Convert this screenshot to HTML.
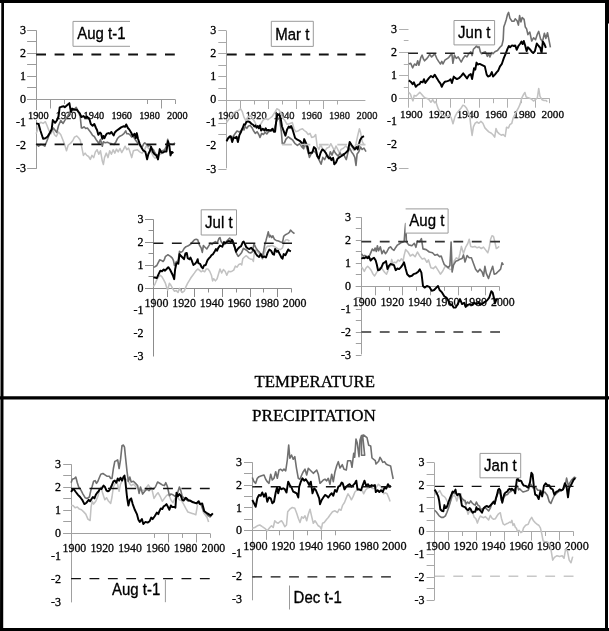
<!DOCTYPE html>
<html><head><meta charset="utf-8"><style>
html,body{margin:0;padding:0;background:#fff;overflow:hidden;}
svg{display:block;will-change:transform;}
text{stroke:currentColor;stroke-width:0.3px;}
</style></head><body>
<svg width="609" height="631" viewBox="0 0 609 631" font-family='"Liberation Serif", serif' stroke-linejoin="round">
<rect width="609" height="631" fill="#fff"/>
<g><path d="M36.5 30.4V168.8" stroke="#9a9a9a" stroke-width="1"/>
<path d="M27.1 30.5H36.5M27.1 41.5H36.5M27.1 53.5H36.5M27.1 64.5H36.5M27.1 76.5H36.5M27.1 87.5H36.5M27.1 99.5H36.5M27.1 168.5H36.5" stroke="#9a9a9a" stroke-width="1"/>
<path d="M27.1 99.5H175.3M36.5 99.5V108.5M50.5 99.5V108.5M64.5 99.5V104M147.5 99.5V104M161.5 99.5V108.5M175.5 99.5V104" stroke="#9a9a9a" stroke-width="1"/>
<text x="26.1" y="172" text-anchor="end" font-size="12">-3</text>
<text x="26.1" y="148.97" text-anchor="end" font-size="12">-2</text>
<text x="26.1" y="125.93" text-anchor="end" font-size="12">-1</text>
<text x="26.1" y="102.9" text-anchor="end" font-size="12">0</text>
<text x="26.1" y="79.87" text-anchor="end" font-size="12">1</text>
<text x="26.1" y="56.83" text-anchor="end" font-size="12">2</text>
<text x="26.1" y="33.8" text-anchor="end" font-size="12">3</text>
<rect x="27.5" y="110.04" width="21.6" height="9.79" fill="#fff"/>
<text x="38.3" y="118.9" text-anchor="middle" font-size="10.3" fill="#111">1900</text>
<rect x="55.3" y="110.04" width="21.6" height="9.79" fill="#fff"/>
<text x="66.1" y="118.9" text-anchor="middle" font-size="10.3" fill="#111">1920</text>
<rect x="83.1" y="110.04" width="21.6" height="9.79" fill="#fff"/>
<text x="93.9" y="118.9" text-anchor="middle" font-size="10.3" fill="#111">1940</text>
<rect x="110.9" y="110.04" width="21.6" height="9.79" fill="#fff"/>
<text x="121.7" y="118.9" text-anchor="middle" font-size="10.3" fill="#111">1960</text>
<rect x="138.7" y="110.04" width="21.6" height="9.79" fill="#fff"/>
<text x="149.5" y="118.9" text-anchor="middle" font-size="10.3" fill="#111">1980</text>
<rect x="166.5" y="110.04" width="21.6" height="9.79" fill="#fff"/>
<text x="177.3" y="118.9" text-anchor="middle" font-size="10.3" fill="#111">2000</text>
<path d="M36.1 133.7L37.4 130.2L38.6 124.5L40.8 122.3L43.1 123.4L45.4 121.7L47.1 125.7L48.8 130.2L51.1 133.7L52.8 129.7L54.5 134.8L56.3 136.5L58.5 132L60.8 134.8L63.1 140.5L64.8 145.1L66.5 150.8L68.2 145.1L70.5 143.4L72.8 140.5L74.5 137.1L76.8 136L78.5 137.7L80.2 140L81.7 146.8L83.4 155.4L85.1 153.1L86.8 155.4L88.6 156.5L90.3 159.4L92 155.4L93.7 157.6L95.4 151.9L97.1 149.7L98.8 154.2L100.5 150.8L102.3 161.1L103.4 164.5L104.5 157.6L106.3 153.1L108 157.6L109.7 150.8L111.4 154.2L113.1 149.7L114.8 153.1L116.5 149.1L118.2 151.9L120 148.5L121.7 152.5L123.4 149.7L125.1 146.2L126.8 149.7L128.5 148L129.4 150.2L131.7 157.6L133.4 150.8L135.1 150.2L137.4 149.7L139.7 151.9L142 153.1L144.3 150.8L146 146.2L147.7 147.4L150 149.7L151.7 153.1L153.4 156.5L155.1 158.2L156.8 156.5L158.5 155.4L160.2 154.2L162.5 153.1L164.8 149.7L166.5 146.8" fill="none" stroke="#c2c2c2" stroke-width="1.55" stroke-linejoin="round"/>
<path d="M36.1 143.9L38.6 146.2L40.8 144.5L43.1 145.1L44.8 146.2L46.6 141.7L48.8 136L51.1 131.4L53.4 128L55.1 130.2L56.8 132.5L58.5 125.7L60.8 120.5L63.1 123.4L65.4 119.4L68.2 115.4L70.5 110.8L73.4 110.3L76.2 107.4L78 110.8L80.2 116.5L81.4 127.9L82.3 128L84 126.8L85.7 128.5L87.4 128L89.1 130.2L90.8 132.5L92.6 135.4L94.3 136.5L96 139.4L97.7 141.7L98.8 143.9L100.5 139.4L102.3 146.2L103.4 141.7L105.1 142.8L107.4 142.2L109.7 143.4L112 143.9L114.2 144.5L116 141.7L117.7 138.2L119.4 136.5L121.7 135.4L123.9 133.7L125.7 130.8L126.8 133.7L128.3 133.7L130 134.8L131.7 137.1L133.4 136.5L135.1 139.4L136.8 141.7L138.6 143.9L140.3 146.2L142 147.4L143.7 143.9L144.8 142.8L146.5 144.5L148.3 146.2L150 145.1L151.7 148.5L153.4 149.7L155.1 153.1L156.8 155.4L158.5 154.2L160.2 151.9L162.5 150.8L164.8 149.7L166.5 146.2L167.7 139.4L168.8 145.1L170.5 143.9L172.8 144.5L175.1 142.8" fill="none" stroke="#707070" stroke-width="1.6" stroke-linejoin="round"/>
<path d="M36.1 123.4L38.6 124L40.3 130.2L43.1 138.8L45.4 138.2L47.7 136.5L50 132.5L51.7 129.1L52.8 120L55.1 122.8L56.8 120.5L58.5 116.5L59.7 107.4L61.4 106.8L63.7 106.3L64.8 107.2L66.5 105.7L68.2 104.2L69.4 103.1L70.3 108.6L71.1 112L72.2 108.6L74.5 109.7L76.8 109.7L78.5 112L79.7 113.1L81.4 117.1L83.4 116L85.1 117.7L86.8 116.5L88.6 118.3L89.7 120L90.8 124L92.6 125.7L94.3 124L96 128L97.1 130.2L98.3 134.8L100 132.5L101.1 133.7L102.3 138.8L103.4 136L104.5 138.2L105.7 135.4L106.8 133.7L108.5 133.1L109.7 133.7L111.4 132L112.5 133.7L113.7 135.4L114.8 132.5L116.5 130.8L118.8 129.1L121.1 127.4L123.4 126.3L125.1 126.8L126.2 124.5L127.9 128L129.4 129.7L131.1 132.5L132.8 136L134.6 133.7L135.7 138.2L136.8 133.1L138 138.8L139.7 143.9L141.4 147.4L143.1 150.2L145.4 151.9L147.1 159.4L148.3 154.2L150 150.8L151.1 146.8L152.8 151.9L154.5 154.2L156.3 155.4L158 159.4L159.7 149.1L161.4 152.5L163.1 152.5L164.8 151.4L166.5 151.4L168 141.1L169.4 146.2L170.5 155.4L171.7 151.9L173.4 153.1" fill="none" stroke="#000" stroke-width="1.95" stroke-linejoin="round"/>
<path d="M36.2 54.4H176" stroke="#111" stroke-width="2.0" stroke-dasharray="9.8 8.6"/>
<path d="M36.2 144.4H176" stroke="#111" stroke-width="1.8" stroke-dasharray="9.8 8.6"/>
<rect x="73" y="21.4" width="57" height="24.9" fill="#fff"/>
<path d="M73 21.4V46.3M73 21.4H130M73 46.3H130" stroke="#9a9a9a" stroke-width="1" fill="none"/>
<text transform="translate(77.2 38.8) scale(1 1.1)" font-family='"Liberation Sans", sans-serif' font-size="15">Aug t-1</text></g>
<g><path d="M226.5 30.9V168.3" stroke="#a8a8a8" stroke-width="1"/>
<path d="M218.3 30.5H226.5M218.3 42.5H226.5M218.3 53.5H226.5M218.3 65.5H226.5M218.3 76.5H226.5M218.3 88.5H226.5M218.3 100.5H226.5M218.3 123.5H226.5M218.3 134.5H226.5M218.3 169.5H226.5" stroke="#a8a8a8" stroke-width="1"/>
<path d="M218.3 100.5H365.4M226.5 100.5V109M240.5 100.5V109M254.5 100.5V104.5M268.5 100.5V109M282.5 100.5V104.5M296.5 100.5V109M309.5 100.5V104.5M323.5 100.5V109M337.5 100.5V104.5" stroke="#a8a8a8" stroke-width="1"/>
<text x="216.2" y="172.5" text-anchor="end" font-size="12">-3</text>
<text x="216.2" y="149.47" text-anchor="end" font-size="12">-2</text>
<text x="216.2" y="126.43" text-anchor="end" font-size="12">-1</text>
<text x="216.2" y="103.4" text-anchor="end" font-size="12">0</text>
<text x="216.2" y="80.37" text-anchor="end" font-size="12">1</text>
<text x="216.2" y="57.33" text-anchor="end" font-size="12">2</text>
<text x="216.2" y="34.3" text-anchor="end" font-size="12">3</text>
<text x="228.5" y="119.1" text-anchor="middle" font-size="10.5" fill="#333">1900</text>
<text x="256.22" y="119.1" text-anchor="middle" font-size="10.5" fill="#333">1920</text>
<text x="283.94" y="119.1" text-anchor="middle" font-size="10.5" fill="#333">1940</text>
<text x="311.66" y="119.1" text-anchor="middle" font-size="10.5" fill="#333">1960</text>
<text x="339.38" y="119.1" text-anchor="middle" font-size="10.5" fill="#333">1980</text>
<text x="367.1" y="119.1" text-anchor="middle" font-size="10.5" fill="#333">2000</text>
<path d="M226.5 122.5L229 119L231.5 116L233.5 113.5L235.4 111.7L238.3 110.6L240.6 108.8L242.3 111.7L244 117.4L245.7 120.3L248 117L250.5 115.5L252.5 118L254.8 122L256.5 125.4L258.2 126.5L260 125.4L261.7 122.5L263.4 119.7L265.7 118.5L268 119.7L270.2 118L272.3 116.3L274.6 112.8L276.8 108.8L279.1 110L280.8 112.8L282.6 118L284.8 120.3L287.1 124.3L289.4 123.7L291.1 123.1L292.3 122.5L294 128.8L295.7 131.7L298 131.1L300.3 129.4L302.5 128.8L304.2 130.5L306.5 132.2L308.2 134.5L310 133.4L311.7 137.4L314 136.8L315.7 134.5L317.1 146L318.9 149.4L320.6 144.8L322.3 148.2L324.6 151.7L326.8 148.2L329.1 147.1L330.8 143.7L332.6 147.1L334.3 150.5L336 146L337.7 149.4L339.4 152.8L341.1 149.4L343.4 148.2L345.7 146L348 148.2L349.7 144.8L352 147.1L353.7 150.5L356 143.7L357.7 135.7L359.4 128.8L360.5 132.2L362.2 141.4L364 144.8" fill="none" stroke="#c2c2c2" stroke-width="1.55" stroke-linejoin="round"/>
<path d="M226.5 140L229.7 136L232.2 138L234.8 134L237 131L239.4 132L241.1 130.5L242.8 128L244 130L245.1 126.5L246.8 128.3L248.5 126L250.3 125.4L252 127.7L253.7 131.1L255.4 133.4L257.1 131.7L258.8 134.5L260 137.4L261.7 133.4L263.4 134.5L265.1 132.2L266.8 134L268.5 131.7L270.8 131.1L274 130L276.3 122L278 118L279.7 119.7L281.4 132.2L282.3 143.7L284.3 143.1L286 139.1L288.3 136.8L290.5 138.5L292.8 140.2L295.1 143.7L297.4 145.4L299.7 143.7L302 147.1L303.7 148.8L304.8 143.1L306.5 147.1L308.2 152.2L309.4 157.4L311.1 154L313.4 150.5L315.7 152.8L317.1 156.2L318.9 159.6L321.1 164.2L322.8 157.4L324.6 159.6L326.8 155.1L328.6 158.5L330.3 151.7L332 155.1L333.7 150.5L336 153.9L338.3 156.2L340 152.8L341.7 155.6L343.4 153.9L345.1 157.4L346.3 159.6L348 152.2L349.7 148.2L351.4 151.7L353.1 153.9L354.8 157.4L356 165.4L357.1 153.9L358.8 151.7L360.5 147.1L362.2 149.4L364 148.2L366 151.7" fill="none" stroke="#707070" stroke-width="1.6" stroke-linejoin="round"/>
<path d="M226.5 141.4L228 138.5L229.7 136.8L230.8 136.2L232.2 142L233.7 137.4L235.4 138L236.6 136.8L237.9 142L239.4 135.1L241.1 131.7L242.8 127.7L244 124.3L245.1 124.8L246.3 122L248 121.4L249.7 122L251.4 123.7L253.1 124.8L254.3 126.5L255.4 125.4L256.5 127.7L257.7 126L258.8 128.3L260 125.4L261.1 130.5L262.8 128.8L264.5 130.5L265.7 128.3L266.8 130.5L268.5 130L270.8 130.5L272.5 128.8L274 131.7L275.1 131.7L276.3 120.3L277.4 114L278.6 114.6L279.7 115.7L280.8 119.1L282 126.5L283.7 131.1L285.4 135.7L287.1 129.4L288.8 126.5L290 127.7L291.1 126L292.3 128.8L293.4 132.2L295.1 138L297.4 139.7L299.7 140.8L301.4 142.5L303.1 145.4L304.2 139.1L306 143.1L307.7 147.1L308.8 153.4L310.5 152.8L312.2 152.8L314 147.1L315.7 148.8L317.4 156.2L318.9 158.5L320.6 152.8L322.3 149.4L324 150.5L325.7 152.8L327.4 156.2L329.1 158.5L330.3 157.4L331.4 160.2L333.1 157.9L334.3 164.2L336 162.5L337.7 158.5L339.4 157.4L341.1 156.2L342.8 155.1L344.5 153.9L346.3 152.2L348 150.5L349.7 142L351.4 144.8L353.1 147.1L354.8 149.4L356.5 147.1L357.7 149.4L358.8 144.8L360 140.2L361.7 137.4L364 136.2" fill="none" stroke="#000" stroke-width="1.95" stroke-linejoin="round"/>
<path d="M226.9 54.4H366" stroke="#111" stroke-width="2.0" stroke-dasharray="9.8 8.6"/>
<path d="M282.1 144.6H366" stroke="#c4c4c4" stroke-width="1.6" stroke-dasharray="9.8 8.6"/>
<rect x="271.3" y="21.3" width="42" height="25.1" fill="#fff"/>
<path d="M271.3 21.3V46.4M271.3 21.3H313.3M313.3 21.3V46.4M271.3 46.4H313.3" stroke="#9a9a9a" stroke-width="1" fill="none"/>
<text transform="translate(292.3 39.9) scale(1 1.1)" text-anchor="middle" font-family='"Liberation Sans", sans-serif' font-size="15">Mar t</text></g>
<g><path d="M408.5 52.5V98.7" stroke="#b0b0b0" stroke-width="1"/>
<path d="M399.1 29.5H408.5M403.8 40.5H408.5M399.1 52.5H408.5M403.8 64.5H408.5M399.1 75.5H408.5M403.8 87.5H408.5M399.1 98.5H408.5M399.1 168.5H408.5" stroke="#b0b0b0" stroke-width="1"/>
<path d="M399.1 98.5H549.8M408.5 98.5V107.7M422.5 98.5V107.7M436.5 98.5V103.2M450.5 98.5V107.7M464.5 98.5V103.2M479.5 98.5V107.7M493.5 98.5V103.2M507.5 98.5V107.7M521.5 98.5V103.2M535.5 98.5V107.7M549.5 98.5V103.2" stroke="#b0b0b0" stroke-width="1"/>
<text x="396.9" y="171.4" text-anchor="end" font-size="12">-3</text>
<text x="396.9" y="148.3" text-anchor="end" font-size="12">-2</text>
<text x="396.9" y="125.2" text-anchor="end" font-size="12">-1</text>
<text x="396.9" y="102.1" text-anchor="end" font-size="12">0</text>
<text x="396.9" y="79" text-anchor="end" font-size="12">1</text>
<text x="396.9" y="55.9" text-anchor="end" font-size="12">2</text>
<text x="396.9" y="32.8" text-anchor="end" font-size="12">3</text>
<text x="411.3" y="118.3" text-anchor="middle" font-size="11.2" fill="#111">1900</text>
<text x="439.6" y="118.3" text-anchor="middle" font-size="11.2" fill="#111">1920</text>
<text x="467.9" y="118.3" text-anchor="middle" font-size="11.2" fill="#111">1940</text>
<text x="496.2" y="118.3" text-anchor="middle" font-size="11.2" fill="#111">1960</text>
<text x="524.5" y="118.3" text-anchor="middle" font-size="11.2" fill="#111">1980</text>
<text x="552.8" y="118.3" text-anchor="middle" font-size="11.2" fill="#111">2000</text>
<path d="M408.7 92.3L410.5 94.2L411.8 98.5L413 100.9L414.2 95.4L416.1 96L417.9 94.2L419.8 92.3L421.6 94.2L423.5 96.6L425.3 97.9L427.2 98.5L429 99.7L430.9 102.2L432.7 99.7L434.6 102.8L435.8 101.6L437 105.2L438.3 108.9L440.1 112L442 114.5L444.4 116.3L446.9 116.9L449.3 115.1L451.2 117.6L453 123.7L454.9 116.9L456.7 113.3L459.2 110.2L461 108.3L462.9 105.2L464.7 105.9L466.6 108.3L468.4 112L469.7 115.7L470.9 126.8L472.1 135.4L473.4 126.8L475.2 123.1L477 122L478.9 123.3L480.9 121.4L482.9 123.3L484.9 127.9L486.8 129.9L488.8 131.9L491.4 133.2L493.4 135.2L494.7 137.1L496 128.6L497.3 131.9L499.3 133.9L501.3 135.2L503.2 134.5L505.2 136.5L506.5 127.3L508.5 127.9L509.8 124.7L511.8 123.3L513.1 118.1L514.4 115.5L516.4 111.5L518.3 108.2L520.3 103.6L521.6 98.4L523.6 94.4L524.9 92.5L526.2 97.1L528.2 97.7L530.2 98.4L532.1 99.7L533.5 101L535.4 99.7L537.4 97.7L538.7 88.5L540 96.4L542 99.7L544 100.4L545.9 100.4L547.3 101.7" fill="none" stroke="#c2c2c2" stroke-width="1.55" stroke-linejoin="round"/>
<path d="M408.8 64L410.7 63.3L412.6 67.8L414.5 64L416.4 65.2L417.7 60.8L418.9 65.2L420.8 57.6L422.1 55.1L423.4 58.9L424.6 60.8L426.5 58.9L428.4 56.4L429.7 54.5L431.6 57L433.5 55.1L434.8 53.8L436.7 58.3L438.6 61.4L440.5 64L441.8 61.4L443 64L444.9 60.2L446.8 58.9L448.7 57.6L450.6 55.1L451.9 53.8L452.9 63.3L454.4 55.1L456.3 58.3L458.2 56.9L460.1 60.1L461.3 62L463.2 58.2L465.1 55.6L467 56.9L468.9 53.7L470.8 51.8L472.1 55.6L473.4 49.3L475.3 47.4L476.5 46.1L477.8 47.4L479.1 46.8L480.3 51.8L481.6 53.7L483.5 52.5L485.4 51.8L487.3 56.3L488.6 53.7L489.9 56.9L491.8 52.5L493 53.7L494.9 51.8L497.5 50.6L500 47.3L501.9 45.4L503.2 39.7L503.8 27L505.1 23.2L506.3 19.4L507.6 14.3L508.6 12.4L509.9 18.1L512 21.3L513.9 21.3L515.2 18.8L517.1 20.7L518.4 25.1L519.6 15.6L520.9 21.9L522.2 17.5L524.1 19.4L525.3 27L526.6 28.9L527.9 34.6L529.8 32.1L531.7 41L533.6 37.8L535.5 39.7L537.4 34L538.7 31.4L540.6 39.1L542.5 41.6L544.4 33.3L545.9 38.4L547.5 32.7L549.4 42.2L550.4 47.3" fill="none" stroke="#707070" stroke-width="1.6" stroke-linejoin="round"/>
<path d="M408.8 80.4L410.7 81.7L412.6 84.2L413.9 82.3L415.8 86.8L417.7 84.9L419.6 84.2L420.8 81.7L422.7 82.3L424 79.2L425.3 83L427.2 80.4L429.1 77.9L431 76L432.9 77.3L434.8 74.7L436.7 77.9L438.6 81.1L440.5 83.6L441.8 86.8L443 84.2L444.9 81.7L447.5 81.1L449.4 80.4L450.6 79.2L451.9 83L453.8 76.6L455.1 77.9L456.9 79.1L459.4 77.8L461.3 75.9L463.2 73.4L465.1 75.9L467 78.4L468.9 75.3L470.8 74L472.1 79.1L474 68.3L475.3 69.6L476.5 62.6L477.8 64.5L479.7 63.9L482.2 65.1L484.8 66.4L486.7 74.6L488 76.5L489.9 75.9L491.8 72.1L493 76.5L494.9 74.6L496.8 72.1L498.1 70.8L500 66.3L501.9 63.8L503.8 58.1L505.7 53.6L507.6 48.6L508.9 46L510.1 47.3L512 45.4L513.9 46L515.2 45.4L516.7 49.8L518.4 46L520.3 43.5L521.5 41.6L522.6 44.1L523.8 41L525.3 46L526.6 51.1L527.9 47.3L529.8 49.2L531.7 51.7L533.2 53L534.9 51.1L536.8 43.5L538.7 46L540.3 47.9L541.6 53L542.8 41.6L544.4 44.1L545.9 47.9" fill="none" stroke="#000" stroke-width="1.95" stroke-linejoin="round"/>
<path d="M408.2 53.3H550" stroke="#222" stroke-width="1.6" stroke-dasharray="9.8 8.6"/>
<rect x="454" y="20.5" width="40.6" height="24.4" fill="#fff"/>
<path d="M454 20.5V44.9M454 20.5H494.6M494.6 20.5V44.9M454 44.9H494.6" stroke="#9a9a9a" stroke-width="1" fill="none"/>
<text transform="translate(474.3 38.1) scale(1 1.1)" text-anchor="middle" font-family='"Liberation Sans", sans-serif' font-size="15">Jun t</text></g>
<g><path d="M153.5 219.5V356.5" stroke="#8c8c8c" stroke-width="1"/>
<path d="M145 219.5H153.5M148.5 230.5H153.5M145 242.5H153.5M148.5 253.5H153.5M145 265.5H153.5M148.5 276.5H153.5M145 288.5H153.5" stroke="#8c8c8c" stroke-width="1"/>
<path d="M145 288.5H291.6M153.5 288.5V297M167.5 288.5V297M181.5 288.5V292.5M194.5 288.5V297M208.5 288.5V292.5M222.5 288.5V297M236.5 288.5V292.5M250.5 288.5V297M263.5 288.5V292.5M277.5 288.5V297M291.5 288.5V292.5" stroke="#8c8c8c" stroke-width="1"/>
<text x="143.5" y="360.1" text-anchor="end" font-size="12">-3</text>
<text x="143.5" y="337.27" text-anchor="end" font-size="12">-2</text>
<text x="143.5" y="314.43" text-anchor="end" font-size="12">-1</text>
<text x="143.5" y="291.6" text-anchor="end" font-size="12">0</text>
<text x="143.5" y="268.77" text-anchor="end" font-size="12">1</text>
<text x="143.5" y="245.93" text-anchor="end" font-size="12">2</text>
<text x="143.5" y="223.1" text-anchor="end" font-size="12">3</text>
<text x="156.5" y="307" text-anchor="middle" font-size="11.9" fill="#111">1900</text>
<text x="184.12" y="307" text-anchor="middle" font-size="11.9" fill="#111">1920</text>
<text x="211.74" y="307" text-anchor="middle" font-size="11.9" fill="#111">1940</text>
<text x="239.36" y="307" text-anchor="middle" font-size="11.9" fill="#111">1960</text>
<text x="266.98" y="307" text-anchor="middle" font-size="11.9" fill="#111">1980</text>
<text x="294.6" y="307" text-anchor="middle" font-size="11.9" fill="#111">2000</text>
<path d="M153.4 286.6L155.1 283.8L156.8 279.8L158.6 276.9L160.3 275.2L162 276.9L163.7 279.8L165.4 283.2L166.6 287.2L167.7 290.1L169.4 283.2L171.1 285.5L172.8 288.9L174.5 291.2L176.3 290.6L178 292.4L179.5 288.4L180.8 290.6L182.5 292.4L184.2 291.2L186 286.6L187.7 283.2L189.4 280.4L191.1 277.5L192.8 275.2L194.5 272.9L196 270.7L197.7 269L199.4 270.1L201.1 271.8L202.8 270.7L204.6 271.8L206.3 269L208 269L209.7 271.2L211.4 275.2L212.6 280.9L213.7 278.7L215.4 280.9L217.1 278.7L218.8 273L220 269L221.7 273L223.4 269.5L225.1 271.2L226.8 275.2L228.5 271.2L230.2 271.8L232 271.2L233.7 270.1L235.4 266.1L237.1 267.2L238.8 264.4L240.5 263.8L241.7 265L242.8 258.7L244.5 257L246 255.8L247.1 256.4L248.8 258.1L250.6 259.2L252.3 259.2L253.4 261.5L254.6 250L255.7 250.1L257.4 251.5L259.1 253.5L260.8 255.8L262.5 259.2L264.5 253L266 247.8L267.7 246.1L270 246.1L272.3 245.5L275 247L278 249L280.5 249.5L282.5 247.8L284.2 242.1L286 239.8L287.7 239.8L289.4 241" fill="none" stroke="#c2c2c2" stroke-width="1.55" stroke-linejoin="round"/>
<path d="M153.4 267.2L155.1 266.7L156.8 265.5L158 263.2L159.7 259.8L161.4 260.4L163.1 261.5L164.3 259.8L165.4 256.4L166.6 255.8L167.7 254.7L168.8 255.3L170.5 256.4L172.3 258.1L173.4 260.4L174.5 265.5L176.3 261.5L178 261.5L179.5 251.3L180.8 252.4L182.5 251.3L184.2 248.4L186 246.7L187.7 246.1L189.4 245L191.1 243.8L192.8 241.6L194.5 239.8L196.2 239.3L197.7 239.8L199.4 245L201.1 247.8L202.3 252.4L203.4 245.5L205.1 247.3L206.8 249L208.6 246.1L210.3 243.3L212 244.4L213.7 242.7L215.4 241.6L217.1 243.3L218.8 238.7L220 237.6L221.1 241.6L222.8 243.8L224.5 244.4L226.3 241.6L228 239.8L229.7 238.1L231.4 239.8L233.1 241L234.8 247.8L236.5 253.5L238.2 256.4L239.9 254.7L241.7 252.4L243.4 248.4L245.4 249.5L247.1 250.7L248.8 252.4L250.6 253L252.3 251.8L254 243.8L255.7 247.3L257.4 250.1L259.1 251.8L260.8 254.1L262.5 256.4L263.7 250.7L264.8 244.4L266 240.4L267.1 236.4L268.3 231.8L269.4 237L270.5 235.3L271.7 237.6L272.8 235.8L274.5 239.3L276.2 240.4L278.5 241L280.8 242.1L282.5 242.7L283.7 236.4L285.4 234.7L287.7 233.6L289.4 232.4L290.5 230.1L292.2 231.8L294.5 233.6" fill="none" stroke="#707070" stroke-width="1.6" stroke-linejoin="round"/>
<path d="M153.4 277.5L155.1 277.5L156.8 278.1L158.6 274.1L160.3 270.7L162 271.2L163.7 269.5L164.8 270.7L166.6 269L168.3 267.2L170 269.5L171.7 273L172.8 275.2L174.2 279.2L175.1 269.5L176.3 263.8L177.6 262.7L178.3 263.8L179.5 254.1L180.8 255.8L182.5 257.5L184 259.2L185.4 253.5L186.8 253L187.7 258.1L189.4 259.2L190.5 257.5L191.7 260.4L193.4 265L195.1 263.8L196.8 261.5L197.7 259.2L198.3 263.2L200 263.8L201.7 267.2L202.8 268.4L204 265.5L205.7 265L207.4 260.4L209.1 258.1L210.3 257L211.4 255.3L213.1 254.1L214.8 251.3L216 249L217.1 250.7L218.3 247.8L220 245.5L221.1 246.1L222.3 246.7L224 242.1L225.7 243.3L227.4 241.6L229.1 241L230.8 242.1L232 239.8L233.1 242.7L234.8 247.3L236 251.8L237.7 249L239.4 247.3L241.1 246.1L242.8 242.1L243.7 241.6L244.9 243.8L246 246.7L247.7 248.4L249.4 249L251.1 247.8L252.8 249.5L254.6 251.3L255.7 253.5L257.4 255.8L259.1 257L260.8 254.1L262.5 257.5L264.3 256.4L266 257.5L267.7 252.4L269.4 249.5L271.1 250.7L272.8 254.1L274 254.7L275.1 249L276.8 251.8L278 250.7L279.7 254.1L281.4 257.5L282.5 258.7L283.7 254.1L285.4 255.3L287.1 251.8L288.2 249.5L289.4 250.7L290.9 251.3" fill="none" stroke="#000" stroke-width="1.95" stroke-linejoin="round"/>
<path d="M153.5 243.3H292" stroke="#1a1a1a" stroke-width="1.5" stroke-dasharray="9.8 8.6"/>
<rect x="201.2" y="209.8" width="35.3" height="25.2" fill="#fff"/>
<path d="M201.2 209.8V235M201.2 209.8H236.5M236.5 209.8V235M201.2 235H236.5" stroke="#9a9a9a" stroke-width="1" fill="none"/>
<text transform="translate(218.85 228) scale(1 1.1)" text-anchor="middle" font-family='"Liberation Sans", sans-serif' font-size="15">Jul t</text></g>
<g><path d="M361.5 217.3V354.4" stroke="#a0a0a0" stroke-width="1"/>
<path d="M355.8 217.5H361.5M355.8 228.5H361.5M355.8 240.5H361.5M355.8 251.5H361.5M355.8 263.5H361.5M355.8 274.5H361.5M355.8 286.5H361.5M355.8 297.5H361.5M355.8 309.5H361.5M355.8 320.5H361.5M355.8 332.5H361.5M355.8 343.5H361.5M355.8 355.5H361.5" stroke="#a0a0a0" stroke-width="1"/>
<path d="M355.8 286.5H499.6M361.5 286.5V295.3M375.5 286.5V295.3M389.5 286.5V290.8M402.5 286.5V295.3M416.5 286.5V290.8M430.5 286.5V295.3M444.5 286.5V290.8M458.5 286.5V295.3M471.5 286.5V290.8M485.5 286.5V295.3M499.5 286.5V290.8" stroke="#a0a0a0" stroke-width="1"/>
<text x="351" y="358.9" text-anchor="end" font-size="12">-3</text>
<text x="351" y="335.9" text-anchor="end" font-size="12">-2</text>
<text x="351" y="312.9" text-anchor="end" font-size="12">-1</text>
<text x="351" y="289.9" text-anchor="end" font-size="12">0</text>
<text x="351" y="266.9" text-anchor="end" font-size="12">1</text>
<text x="351" y="243.9" text-anchor="end" font-size="12">2</text>
<text x="351" y="220.9" text-anchor="end" font-size="12">3</text>
<text x="364.6" y="305.8" text-anchor="middle" font-size="11.8" fill="#111">1900</text>
<text x="392.24" y="305.8" text-anchor="middle" font-size="11.8" fill="#111">1920</text>
<text x="419.88" y="305.8" text-anchor="middle" font-size="11.8" fill="#111">1940</text>
<text x="447.52" y="305.8" text-anchor="middle" font-size="11.8" fill="#111">1960</text>
<text x="475.16" y="305.8" text-anchor="middle" font-size="11.8" fill="#111">1980</text>
<text x="502.8" y="305.8" text-anchor="middle" font-size="11.8" fill="#111">2000</text>
<path d="M361.4 266.8L363.1 269.1L364.3 271.4L366 268L367.7 266.2L369.4 268L371.1 270.2L372.8 273.7L374.6 275.9L376.3 273.1L378 270.2L379.7 268L381.4 267.4L383.1 270.2L384.8 272.5L386.5 274.2L387.7 271.4L388.8 268L390.5 265.7L391.7 259.4L392.8 263.4L394.5 262.2L396.2 262.8L398 260L399.7 261.1L401.4 258.8L403.1 261.1L404 256L405.6 249.6L408 252L410.3 256L412.7 254.4L415.1 256.8L417.4 252L419.8 256L422.2 259.1L424.6 258.3L426.9 262.3L428.5 259.9L430.9 267.8L433.3 268.6L435.6 266.3L438 270.2L440.4 274.2L442.8 271L445.1 266.3L447.5 267.1L449.9 269.4L452.1 269.2L454.3 260.6L456.4 257.8L458.5 259.2L460 253.5L461.4 246.4L463.5 253.5L465.7 247.1L467.8 243.5L469.2 239.2L470.7 246.4L472.8 247.1L474.9 246.4L477.1 247.8L479.2 247.1L481.3 248.5L483.5 247.1L485.6 249.9L487.8 252.8L489.2 247.8L490.6 239.2L492 235.7L493.5 236.4L494.9 242.1L496.3 248.5L497.7 247.8L499.2 246.4" fill="none" stroke="#c2c2c2" stroke-width="1.55" stroke-linejoin="round"/>
<path d="M361.4 253.7L363.1 256L364.8 255.4L366.6 256.5L368.3 256.5L369.4 256L370.6 253.1L372.3 249.1L374 250.8L375.1 248L376.3 251.4L377.4 245.7L378.5 250.8L380.3 246.8L382 253.7L383.7 250.3L385.4 253.7L387.1 251.4L388.8 248L390.5 246.8L392.2 249.1L394 250.3L395.7 247.4L397.4 245.1L399.1 244L400.8 242.8L402.5 242.3L404.2 241.1L405 230L405.6 223.5L406.2 235L406.4 241.7L408.7 244.9L411.9 245.7L414.3 243.3L415.9 247.3L417.4 240.9L419.8 241.7L421.4 238.6L423 248.9L426.2 249.6L429.3 252L432.5 252.8L434.9 255.2L437.2 254.4L439.6 256.8L441.2 256L442.8 260.7L444.3 264.7L446.7 266.3L448.3 267.8L449.9 265.5L450.5 255L451.1 242.1L451.7 258L452.1 272L453.6 264.9L455.7 261.3L457.8 260.6L460 259.2L462.1 258.5L463.5 254.9L465 262L467.1 255.6L469.2 257.8L471.4 257.8L473.5 263.5L475.6 269.2L477.8 272L479.9 269.2L482.1 272L483.5 276.3L484.9 266.3L486.3 273.4L488.5 278.4L490.6 272L492.7 266.3L494.2 274.2L496.3 273.4L498.4 271.3L500.6 269.2L502 262.8L503.4 264.9" fill="none" stroke="#707070" stroke-width="1.6" stroke-linejoin="round"/>
<path d="M361.4 258.8L363.1 257.7L364.3 258.3L366 257.1L367.7 258.3L368.8 256.5L370.6 260.5L372.3 258.8L374 257.7L375.7 260.5L376.8 264.5L378 270.2L379.7 269.7L381.4 267.4L383.1 263.4L384.8 262.2L386 261.1L387.5 269.1L388.8 266.2L390.5 264L392.2 264.5L394 265.1L395.7 270.2L397.4 268.5L399.1 269.1L400.8 267.4L402.5 265.1L404 262.3L405.6 268.6L407.2 274.2L409.5 276.5L411.9 275.8L413.5 274.2L415.9 273.4L418.2 271.8L419.8 269.4L421.4 272.6L423 286L424.6 287.6L426.9 286L429.3 286.8L431.7 290.8L434.1 290L436.4 287.6L438 286L439.6 290L442 292.4L444.3 296.3L446.7 297.9L449.1 301.9L450 304.1L452.1 304.8L453.6 307.6L455.7 307.6L457.8 304.1L460 299.1L462.1 304.1L464.2 302.7L465.7 306.9L467.8 304.8L469.9 304.1L472.1 304.8L474.2 302.7L476.4 304.1L478.5 302.7L480.6 304.8L482.8 303.4L484.9 301.9L487 300.5L489.2 297.7L491.3 291.3L492.7 292.7L493.9 297.7L494.9 303.4L496.3 299.8L497.7 298.4" fill="none" stroke="#000" stroke-width="1.95" stroke-linejoin="round"/>
<path d="M361.4 241.7H500.5" stroke="#333" stroke-width="1.7" stroke-dasharray="9.8 8.6"/>
<path d="M361.4 332H500.5" stroke="#333" stroke-width="1.6" stroke-dasharray="9.8 8.6"/>
<rect x="405.6" y="208.9" width="42.5" height="24.2" fill="#fff"/>
<path d="M405.6 208.9H448.1M448.1 208.9V233.1M405.6 233.1H448.1" stroke="#9a9a9a" stroke-width="1" fill="none"/>
<text transform="translate(426.85 226.3) scale(1 1.1)" text-anchor="middle" font-family='"Liberation Sans", sans-serif' font-size="15">Aug t</text></g>
<g><path d="M71.5 464.3V602.4" stroke="#a0a0a0" stroke-width="1"/>
<path d="M63.2 464.5H71.5M63.2 475.5H71.5M63.2 487.5H71.5M63.2 498.5H71.5M63.2 510.5H71.5M63.2 521.5H71.5M63.2 533.5H71.5" stroke="#a0a0a0" stroke-width="1"/>
<path d="M63.2 533.5H210.2M71.5 533.5V542.4M154.5 533.5V537.9M168.5 533.5V542.4M182.5 533.5V537.9M196.5 533.5V542.4M210.5 533.5V537.9" stroke="#a0a0a0" stroke-width="1"/>
<text x="61.1" y="606.1" text-anchor="end" font-size="12">-3</text>
<text x="61.1" y="583.07" text-anchor="end" font-size="12">-2</text>
<text x="61.1" y="560.03" text-anchor="end" font-size="12">-1</text>
<text x="61.1" y="537" text-anchor="end" font-size="12">0</text>
<text x="61.1" y="513.97" text-anchor="end" font-size="12">1</text>
<text x="61.1" y="490.93" text-anchor="end" font-size="12">2</text>
<text x="61.1" y="467.9" text-anchor="end" font-size="12">3</text>
<text x="74.4" y="552.2" text-anchor="middle" font-size="11.8" fill="#111">1900</text>
<text x="102.2" y="552.2" text-anchor="middle" font-size="11.8" fill="#111">1920</text>
<text x="130" y="552.2" text-anchor="middle" font-size="11.8" fill="#111">1940</text>
<text x="157.8" y="552.2" text-anchor="middle" font-size="11.8" fill="#111">1960</text>
<text x="185.6" y="552.2" text-anchor="middle" font-size="11.8" fill="#111">1980</text>
<text x="213.4" y="552.2" text-anchor="middle" font-size="11.8" fill="#111">2000</text>
<path d="M71.1 505.5L73 505.5L75.1 507.7L77.3 507L79.4 509.1L81.5 509.8L83.7 511.9L85.8 514.1L87.9 519.1L90.1 520.5L91.1 506.9L92.2 501.3L93.6 504.1L95.8 501.3L97.9 496.3L99.3 490.6L101 487L102.9 494.1L104.8 499.8L106.5 497.7L108.6 501.3L110.7 503.4L112 497L113.4 487L114.8 484.2L117 481.3L119.1 491.3L120.5 484.2L122.7 479.9L124.8 478.5L127 479.9L129.1 482.7L131.2 485.6L133.4 484.2L135.5 486.3L137.6 488.4L139.8 488.4L141.9 489.9L144.1 490.6L146.2 487.7L148.3 484.9L149.7 487L151.9 489.1L154 498.4L156.2 494.8L158 492.7L160.1 496.3L162.3 501.3L164.4 498.4L166.5 495.6L168.7 494.1L170.8 499.8L173 502.7L175.1 498.4L177.2 497L179.4 499.8L181.5 500.6L183.6 504.1L185.8 508.4L187.9 512L190.1 512.7L192.2 513.4L194.3 514.1L195.8 514.8L197.9 502.7L199.3 501.3L201.5 505.5L203.6 512.7L205.7 515.5L207.2 517.7L208.6 521.9" fill="none" stroke="#c2c2c2" stroke-width="1.55" stroke-linejoin="round"/>
<path d="M71.1 482.7L72.3 479.2L74.4 478.5L75.8 477L77.3 482.7L78.7 487L80.8 489.9L83 494.1L85.1 497.7L87.2 498.4L89.4 497L90.8 490.6L92.2 486.3L93.6 481.3L95.1 480.6L96.5 483.4L97.9 481.3L99.3 477.7L100.8 474.2L102.9 473.5L105 474.9L107.2 476.3L109.3 476.3L110.7 478.5L112 478.5L113.4 468.5L114.8 461.4L116.3 460.7L117.7 459.9L119.1 468.5L120.5 459.9L122 445.7L123.4 445L124.5 447.1L125.5 457.1L127 471.3L128.4 481.3L129.8 477L131.2 482L133.4 481.3L135.5 483.4L137.6 485.6L139.1 493.4L140.5 487L142.6 494.1L144.8 491.3L146.9 489.1L149 490.6L151.2 488.4L153.3 489.1L155.4 487L157.6 482L160.1 483.5L162.3 484.9L164.4 485.6L165.8 482.7L167.3 486.3L169.4 495.6L170.8 494.1L173 494.8L175.1 496.3L177.2 494.1L179.4 487L180.8 490.6L182.2 496.3L184.4 498.4L186.5 499.8L188.6 501.3L190.8 500.6L192.9 502L195 502.7L197.2 502.7L199.3 503.4L201.5 505.5L203.6 511.2L205.7 512.7L207.9 515.5L210 516.9L212.1 514.1" fill="none" stroke="#707070" stroke-width="1.6" stroke-linejoin="round"/>
<path d="M71.1 492L72.3 489.9L73.7 489.1L75.8 492L78 494.8L80.1 497L82.2 499.8L84.4 504.1L86.5 502.7L88.7 499.8L90.1 501.3L91.5 499.1L92.9 497L94.4 498.4L95.8 494.8L97.2 492.7L98.6 491.3L100.1 488.4L101.5 489.1L103.6 485.6L105 487L106.5 490.6L107.9 491.3L109.3 490.6L111.4 486.3L113.4 481.3L114.8 480.6L116.3 482.7L117.7 478.5L119.1 480.6L120.5 477.7L122 480.6L123.4 477L124.5 475.6L125.5 482.7L127 497L128.4 505.5L129.8 499.8L131.2 498.4L132.7 504.1L134.8 509.8L136.9 514.1L138.4 519.8L139.8 521.9L141.9 519.1L143.3 524L145.5 521.9L147.6 522.6L149.7 521.2L151.2 517.6L152.6 519.1L154.7 516.2L156.9 512.6L158.3 514.1L159.4 511.2L160.8 508.4L162.3 509.1L163.7 506.3L165.1 505.5L166.5 504.1L168 507L169.4 509.8L170.8 505.5L172.2 507L174.4 507L175.4 507.7L176.5 492.7L177.9 496.3L179.4 494.1L180.8 495.6L182.2 499.8L183.6 500.6L185.8 497.7L187.9 499.8L190.1 500.6L192.2 502L194.3 502.7L196.5 503.4L198.6 501.3L200 504.1L202.2 503.4L204.3 511.2L206.4 512.7L208.6 514.1L210.7 515.5L212.9 513.4" fill="none" stroke="#000" stroke-width="1.95" stroke-linejoin="round"/>
<path d="M71.1 488.5H211" stroke="#111" stroke-width="1.4" stroke-dasharray="9.8 8.6"/>
<path d="M71.1 578.6H211" stroke="#111" stroke-width="1.4" stroke-dasharray="9.8 8.6"/>
<path d="M165.4 580V602.2" stroke="#9a9a9a" stroke-width="1" fill="none"/>
<text transform="translate(112 595.4) scale(1 1.1)" font-family='"Liberation Sans", sans-serif' font-size="15">Aug t-1</text></g>
<g><path d="M252.5 462.3V600.3" stroke="#a0a0a0" stroke-width="1"/>
<path d="M244 462.5H252.5M244 473.5H252.5M244 485.5H252.5M244 496.5H252.5M244 507.5H252.5M244 519.5H252.5M244 530.5H252.5" stroke="#a0a0a0" stroke-width="1"/>
<path d="M244 530.5H391M252.5 530.5V539.8M266.5 530.5V539.8M279.5 530.5V535.3M293.5 530.5V539.8M307.5 530.5V535.3M321.5 530.5V539.8M335.5 530.5V535.3" stroke="#a0a0a0" stroke-width="1"/>
<text x="242.1" y="602.9" text-anchor="end" font-size="12">-3</text>
<text x="242.1" y="580.07" text-anchor="end" font-size="12">-2</text>
<text x="242.1" y="557.23" text-anchor="end" font-size="12">-1</text>
<text x="242.1" y="534.4" text-anchor="end" font-size="12">0</text>
<text x="242.1" y="511.57" text-anchor="end" font-size="12">1</text>
<text x="242.1" y="488.73" text-anchor="end" font-size="12">2</text>
<text x="242.1" y="465.9" text-anchor="end" font-size="12">3</text>
<text x="255.5" y="550.3" text-anchor="middle" font-size="12.2" fill="#111">1900</text>
<text x="283.26" y="550.3" text-anchor="middle" font-size="12.2" fill="#111">1920</text>
<text x="311.02" y="550.3" text-anchor="middle" font-size="12.2" fill="#111">1940</text>
<text x="338.78" y="550.3" text-anchor="middle" font-size="12.2" fill="#111">1960</text>
<text x="366.54" y="550.3" text-anchor="middle" font-size="12.2" fill="#111">1980</text>
<text x="394.3" y="550.3" text-anchor="middle" font-size="12.2" fill="#111">2000</text>
<path d="M252.3 528.3L254.8 527.5L257.3 525.8L259.8 525L262.3 526.7L264.8 528.3L267.3 530.8L269.8 527.5L271.5 525.8L273.2 527.5L274.8 520.8L276.5 522.5L278.2 523.3L279.8 521.7L281.5 520.8L283.2 523.3L284.8 526.7L286.5 525L287.7 511.7L289.8 509.2L292.3 507.5L294.8 508.3L296.7 513.3L298.3 518.3L300 522.5L301.7 516.7L303.3 518.3L305 515.8L306.7 520.8L308.3 514.2L310 509.2L311.7 516.7L313.3 523.3L315 520.8L316.7 523.3L318.3 525.8L320 526.7L321.3 529.2L322.5 523.3L324.2 522.5L326.7 519.2L328.3 517.5L330 515L332.5 511.7L335 510.8L337.5 512.5L339.2 509.2L341 510.3L342.7 505.1L344.5 502.5L346.2 498.1L348 493.8L349.7 496.4L351.4 499.8L353.2 496.4L354.9 492L356.7 490.3L358.4 488.5L360.1 490.3L361.9 489.4L363.6 493.8L365.4 490.3L367.1 488.5L368.9 487.7L370.6 486.8L372.3 488.5L374.1 488.5L375.8 487.7L378.4 484.2L380.2 485.9L381.9 487.7L383.6 493.8L385.4 492.9L387.1 493.8L388.9 498.1L390.1 501.6" fill="none" stroke="#c2c2c2" stroke-width="1.55" stroke-linejoin="round"/>
<path d="M252.3 477.5L254 481.7L255.7 483.3L257.3 478.3L259 476.7L261.5 475.8L264 475L265.7 479.2L267.3 481.7L269 483.3L270.7 474.2L272.3 480L274 478.3L275.7 471.7L277.3 478.3L279 470L280.7 469.2L282.3 470.8L284 469.2L285.7 470.8L287.3 460L288.7 445L289.8 458.3L291.5 455L293.2 459.2L294.8 456.7L296.5 468.3L298.3 478.3L300 479.2L301.7 475L303.3 471.7L305 469.2L306.7 475L308.3 468.3L310.8 470.8L313.3 473.3L315 471.7L316.7 470L318.3 474.2L320 483.3L321.7 481.7L323.3 480L325 479.2L326.7 480.8L328.3 478.3L330 484.2L331.7 474.2L333.3 481.7L335 471.7L336.7 465.8L338.3 461.7L340 468L342.3 464.7L344 469.3L346.3 470L347.7 460.7L350.7 460.7L352 467.3L353.7 453.3L354.7 457.3L356 439L357.3 443.3L359 456.7L360 440L361.5 435.5L361.5 455.3L364.7 455.3L362.6 435.2L363.5 435L367 437.7L368.7 445.3L370.7 446L372 458L375.3 460.7L376 464L378.7 461.3L380 457.3L381 458.9L382.8 462.4L384.5 461.6L386.3 464.2L388 465L390.6 465.9L392.3 474.6L393.2 479" fill="none" stroke="#707070" stroke-width="1.6" stroke-linejoin="round"/>
<path d="M252.3 500L254 503.3L255.7 506.7L257.3 498.3L259 495L260.7 495.8L262.3 492.5L264 496.7L265.7 493.3L267.3 501.7L269 497.5L270.7 498.3L272.3 503.3L274 501.7L275.7 492.5L277 487.5L278.2 493.3L279.8 487.5L281.5 489.2L283.2 488.3L284.8 489.2L286.5 492.5L288.2 481.7L289.8 485L291.5 487.5L293.2 491.7L295 492.5L296.7 493.3L298.3 497.5L299.2 486.7L300.8 481.7L302.5 478.3L304.2 480.8L305.8 479.2L307.5 481.7L309.2 485L310.8 481.7L312.5 493.3L314.2 488.3L315.8 490L317.5 494.2L319.2 498.3L320 504.2L321.7 500L323.3 497.5L325 495L326.7 495.8L328.3 497.5L330 495L331.7 493.3L333.3 495.8L335 490L336.7 491.7L338.3 486.7L340 485.8L341.7 482.5L342.7 483.3L344.5 489.4L346.2 486.8L348 485.1L349.7 484.2L351.4 486.8L353.2 485.1L354.9 483.3L356.3 480.7L357.5 489.4L359.3 489.4L361 490.3L362.8 485.1L364.5 480.7L366.2 485.9L368 484.2L369.7 486.8L371.5 485.1L373.2 485.9L374.9 485.1L375.8 492L377.6 490.3L379.3 492L381 490.3L382.8 492L384.5 487.7L386.3 488.5L388 484.2L389.7 486.8L391.1 485.9" fill="none" stroke="#000" stroke-width="1.95" stroke-linejoin="round"/>
<path d="M252.3 486.8H391" stroke="#111" stroke-width="1.4" stroke-dasharray="9.8 8.6"/>
<path d="M252.3 576.9H391" stroke="#111" stroke-width="1.4" stroke-dasharray="9.8 8.6"/>
<path d="M289.5 585.5V609.5" stroke="#9a9a9a" stroke-width="1" fill="none"/>
<text transform="translate(293.6 602.6) scale(1 1.1)" font-family='"Liberation Sans", sans-serif' font-size="15">Dec t-1</text></g>
<g><path d="M434.5 462.8V600.1" stroke="#a8a8a8" stroke-width="1"/>
<path d="M426.6 462.5H434.5M426.6 474.5H434.5M426.6 485.5H434.5M426.6 497.5H434.5M426.6 508.5H434.5M426.6 520.5H434.5M426.6 531.5H434.5M426.6 542.5H434.5M426.6 554.5H434.5M426.6 565.5H434.5M426.6 577.5H434.5M426.6 588.5H434.5M426.6 600.5H434.5" stroke="#a8a8a8" stroke-width="1"/>
<path d="M426.6 531.5H573.6M434.5 531.5V540.5M448.5 531.5V540.5M462.5 531.5V536M476.5 531.5V540.5M490.5 531.5V536M504.5 531.5V540.5M518.5 531.5V536M531.5 531.5V540.5M545.5 531.5V536M559.5 531.5V540.5M573.5 531.5V536" stroke="#a8a8a8" stroke-width="1"/>
<text x="424.6" y="603.8" text-anchor="end" font-size="12">-3</text>
<text x="424.6" y="580.9" text-anchor="end" font-size="12">-2</text>
<text x="424.6" y="558" text-anchor="end" font-size="12">-1</text>
<text x="424.6" y="535.1" text-anchor="end" font-size="12">0</text>
<text x="424.6" y="512.2" text-anchor="end" font-size="12">1</text>
<text x="424.6" y="489.3" text-anchor="end" font-size="12">2</text>
<text x="424.6" y="466.4" text-anchor="end" font-size="12">3</text>
<text x="437.9" y="549.8" text-anchor="middle" font-size="12.2" fill="#111">1900</text>
<text x="465.64" y="549.8" text-anchor="middle" font-size="12.2" fill="#111">1920</text>
<text x="493.38" y="549.8" text-anchor="middle" font-size="12.2" fill="#111">1940</text>
<text x="521.12" y="549.8" text-anchor="middle" font-size="12.2" fill="#111">1960</text>
<text x="548.86" y="549.8" text-anchor="middle" font-size="12.2" fill="#111">1980</text>
<text x="576.6" y="549.8" text-anchor="middle" font-size="12.2" fill="#111">2000</text>
<path d="M434.6 494.7L436.2 493.7L438.2 492.2L439.8 490.6L440.8 492.7L442.3 495.3L443.9 496.3L445.4 497.8L447 500.9L448.5 504L449.6 503L451.1 499.9L452.6 496.3L454.2 495.3L455.7 497.3L456.8 500.9L457.8 497.8L459.4 493.7L460.9 493.7L461.9 501.4L463.5 500.4L465 502L466.6 509.2L468.1 514.3L469.7 510.7L471.2 512.3L472.8 513.3L474.3 517.4L475.8 518.5L477.4 523.1L478.7 519.3L480.3 516L482 517.1L483.7 517.7L485.3 516.6L487 518.2L488.6 519.9L490.3 515.4L492 518.2L493.6 519.3L495.3 518.8L497 516L498.6 513.8L500.3 512.7L501.4 518.2L503.1 523.8L504.7 524.9L506.4 523.8L508 523.2L509.7 522.1L510.8 522.6L511.9 520.4L513 525.4L514.1 523.8L515.2 527.1L516.4 528.2L517.5 531.5L519.1 530.4L520.8 532.6L522.5 531.5L523.5 528L525.6 525.2L528.2 524.3L530 519.9L531.7 517.3L533.5 520.8L535.2 522.6L537 524.3L538.7 525.2L540.4 527.8L541.8 533.9L543.1 540.9L544.8 541.7L546.5 541.7L548.3 542.6L550 544.4L551.4 552.2L552.7 560.1L554.4 557.4L557 555.7L559.6 556.6L562.2 555.7L564 558.3L565.7 548.7L567.5 551.3L569.2 560.1L571 562.7L572.7 556.6" fill="none" stroke="#c2c2c2" stroke-width="1.55" stroke-linejoin="round"/>
<path d="M434.6 510.2L436.2 511.8L437.7 513.8L439.2 515.9L441.3 517.4L443.4 517.4L445.4 515.9L447 512.3L448.5 508.1L450.1 503L451.6 496.8L452.6 492.2L454.2 493.7L455.7 492.7L457.3 494.7L458.8 493.7L460.4 495.8L461.9 498.4L463.5 499.9L465 500.4L466.1 504L467.6 502L469.1 503.5L470.7 500.9L472.2 503L473.8 504.5L475.3 505.1L476.4 502L477.9 505.1L479.5 506.1L480.3 508.8L482 509.3L483.7 508.2L485.3 507.7L487 509.3L488.6 511L490.3 508.2L492 503.2L493.6 502.7L494.7 503.8L496.4 497.2L498.1 492.7L499.2 491.6L500.3 494.4L501.4 500.5L502.5 501.6L504.2 496.6L505.8 494.9L507.5 494.4L509.2 492.2L510.8 491.6L512.5 489.9L514.1 489.9L515.8 487.2L517.5 486.1L518.6 489.9L519.7 488.8L521.3 490.5L523 492L525.6 491.2L528.2 490.3L530.8 484.2L532.6 487.7L535.2 486.8L537.8 490.3L540.4 490.3L543.1 492.9L544.8 492L547.4 495.5L549.2 501.6L550.9 503.4L552.7 499L554.4 495.5L557 492.9L559.6 491.2L562.2 490.3L564.9 486.8L566.6 478.1L568.4 485.9L570.1 482.4L571.8 479.8L574.5 477.2L576.2 478.1" fill="none" stroke="#707070" stroke-width="1.6" stroke-linejoin="round"/>
<path d="M434.6 489.6L435.6 491.1L436.7 493.2L438.2 496.3L439.2 500.9L440.3 509.2L441.8 510.7L443.4 511.2L444.4 505.1L445.4 508.1L446.5 507.6L447.5 505.1L448.5 502L450.1 497.8L451.6 494.2L452.6 491.6L453.7 492.2L454.7 491.1L455.5 489.6L456.3 493.7L457.3 495.3L458.3 494.2L459.9 494.2L460.9 499.9L461.9 505.6L463.5 506.6L465 507.1L466.6 509.2L468.1 510.2L469.7 508.1L470.7 509.2L471.7 511.2L472.8 512.8L473.8 511.8L475.3 511.8L476.4 507.1L477.4 509.7L478.7 508.8L480.3 510.5L482 512.7L483.7 508.2L485.3 506.6L487 506L488.6 507.1L490.3 505.5L492 503.8L493.6 501.6L494.7 503.8L495.8 498.8L497 494.9L498.1 489.9L499.2 488.8L500.3 490.5L501.4 498.3L502.3 502.7L503.1 498.3L504.2 494.4L505.3 492.7L506.4 492.2L507.5 491.1L508.6 489.4L509.7 488.8L510.8 489.9L511.9 488.8L513 489.9L514.1 490.5L515.2 493.3L516 486.1L516.9 479.4L518 478.9L519.1 481.1L520.2 480.5L521.3 481.1L522.5 483.8L523.6 485.5L525.6 485.9L528.2 487.7L530 482.4L531.4 472.8L532.6 474.6L533.8 485.9L535.2 494.7L537 495.5L538.7 499L540.4 491.2L542.2 496.4L543.9 485.9L545.7 483.3L547.4 485.1L549.2 485.1L550.9 488.5L552.7 489.4L554.4 494.7L556.1 492L557.9 491.2L559.6 489.4L561.4 490.3L563.1 489.4L564.9 483.3L566.6 486.8L568 497.3L569.2 487.7L571 485.1L573.6 479.8L575.3 478.1" fill="none" stroke="#000" stroke-width="1.95" stroke-linejoin="round"/>
<path d="M434.9 486.4H574" stroke="#111" stroke-width="1.4" stroke-dasharray="9.8 8.6"/>
<path d="M434.9 576.3H574" stroke="#c8c8c8" stroke-width="1.4" stroke-dasharray="9.8 8.6"/>
<rect x="480" y="453.4" width="40.7" height="24.4" fill="#fff"/>
<path d="M480 453.4V477.8M480 453.4H520.7M520.7 453.4V477.8M480 477.8H520.7" stroke="#9a9a9a" stroke-width="1" fill="none"/>
<text transform="translate(500.35 471.4) scale(1 1.1)" text-anchor="middle" font-family='"Liberation Sans", sans-serif' font-size="15">Jan t</text></g>
<path d="M0 0H609V3H0Z M0 628H609V631H0Z M1.3 0H4L3.2 631H0Z M605 0H608V631H605Z M605.7 0H609V23.6H605.7Z M0 396.3H609V399.5H0Z" fill="#000"/>
<text x="254.6" y="387.4" font-size="16" textLength="120.3" lengthAdjust="spacingAndGlyphs">TEMPERATURE</text>
<text x="252" y="420.7" font-size="16" textLength="123.8" lengthAdjust="spacingAndGlyphs">PRECIPITATION</text>
</svg>
</body></html>
